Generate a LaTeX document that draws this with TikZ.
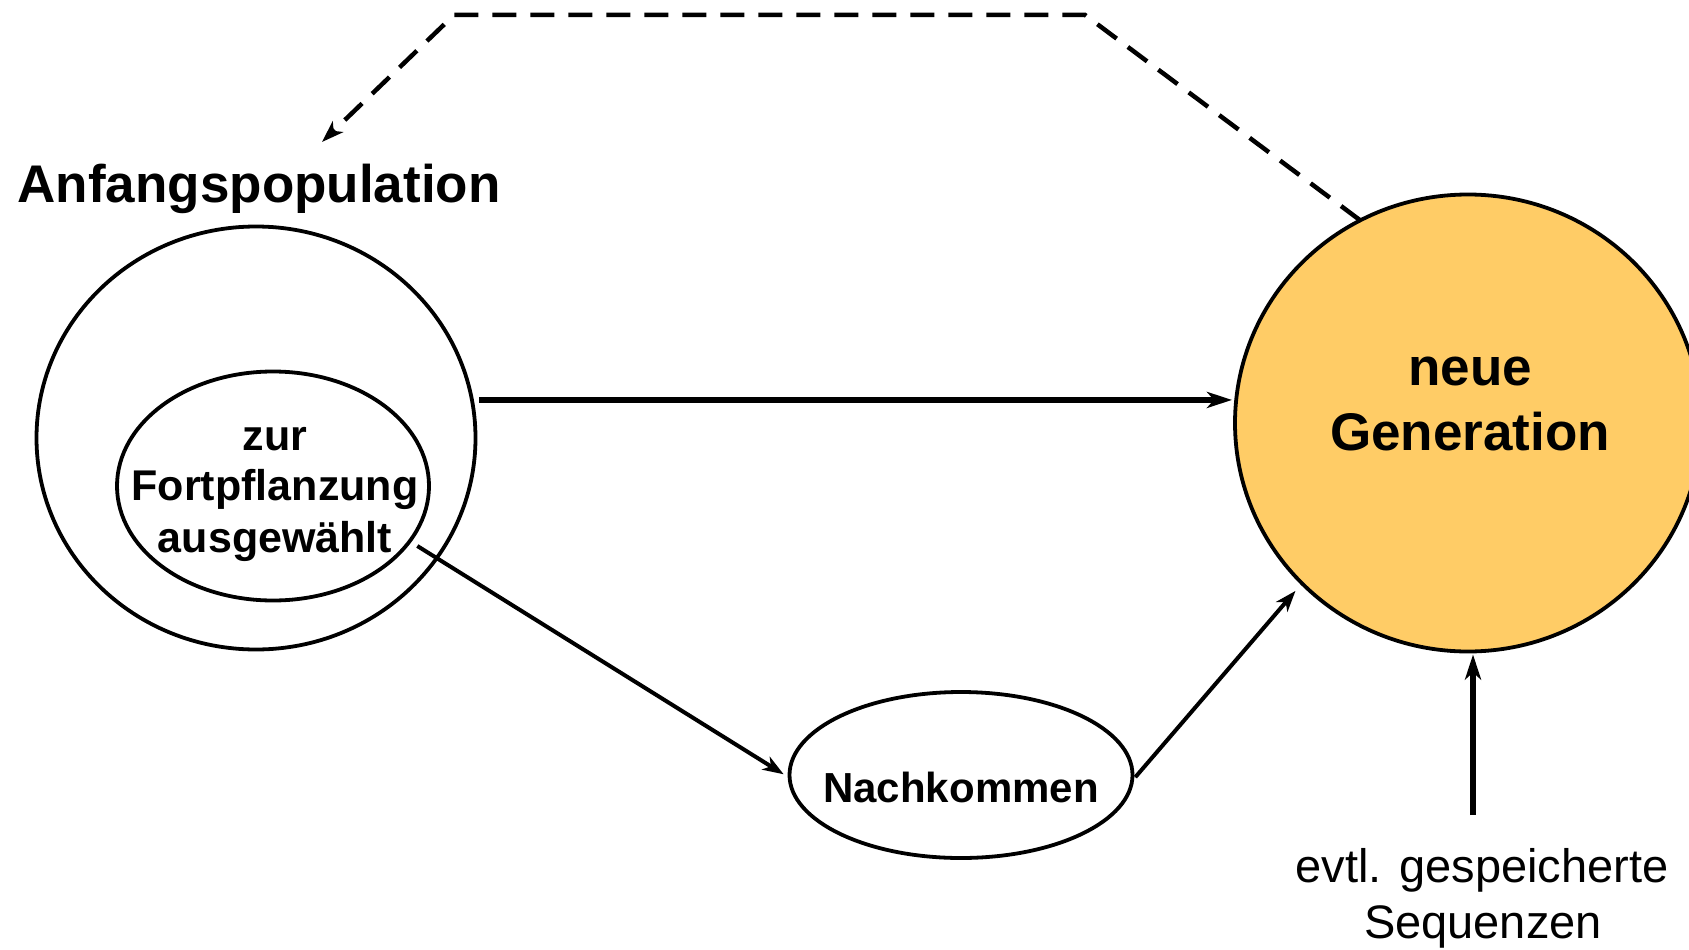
\documentclass[tikz,border=0pt]{standalone}
\usepackage{fontspec}
\setmainfont{Liberation Sans}
\usetikzlibrary{arrows.meta,shapes.geometric}
\definecolor{gengold}{RGB}{255,204,102}

\begin{document}
\begin{tikzpicture}[x=1pt,y=-1pt,
  ring/.style={draw, ellipse, inner sep=0pt, outer sep=0pt, line width=3.8pt},
  txt/.style={inner sep=0pt, anchor=base},
  bigbold/.style={font=\fontsize{53pt}{60pt}\selectfont\bfseries},
  midbold/.style={font=\fontsize{43pt}{50pt}\selectfont\bfseries},
  plain/.style={font=\fontsize{47pt}{52pt}\selectfont},
  heavylink/.style={line width=5.5pt, -{Stealth[length=25pt,width=16pt,inset=7pt]}},
  thinlink/.style={line width=4pt, -{Stealth[length=21pt,width=15pt,inset=6pt]}},
  backlink/.style={line width=4.5pt, dash pattern=on 24pt off 14pt,
    -{Stealth[length=22pt,width=15pt,inset=6pt]}},
]
\clip (0,0) rectangle (1689,950);

% population, selected parents, offspring, new generation
\node[ring, minimum width=439pt, minimum height=423pt] (outer) at (256,438) {};
\node[ring, minimum width=312pt, minimum height=229pt] (inner) at (273,486) {};
\node[ring, minimum width=343pt, minimum height=166pt] (nach) at (961,775) {};
\node[ring, fill=gengold, minimum width=466pt, minimum height=457pt] (ng) at (1468,423) {};

% labels
\node[txt, bigbold, anchor=base west] (anf) at (17.5,202) {Anfangspopulation};
\node[txt, midbold] (sel1) at (275,450) {zur};
\node[txt, midbold] (sel2) at (275,500) {Fortpflanzung};
\node[txt, midbold] (sel3) at (275,552) {ausgewählt};
\node[txt, font=\fontsize{42pt}{48pt}\selectfont\bfseries] (nachlbl) at (961,802) {Nachkommen};
\node[txt, bigbold] (gen1) at (1470,385) {neue};
\node[txt, bigbold] (gen2) at (1470,450) {Generation};
\node[txt, plain] (store1) at (1482,882) {evtl. gespeicherte};
\node[txt, plain] (store2) at (1483,938) {Sequenzen};

% connectors
\draw[heavylink, shorten <=7.5pt, shorten >=3pt] (outer.10.4) -- (ng.west |- outer.10.4);
\draw[thinlink, shorten <=9pt, shorten >=7pt] (inner.-22.1) -- (nach.181.9);
\draw[thinlink, shorten <=5pt, shorten >=10pt] (nach.-2.2) -- (ng.224.7);

\coordinate (src) at (1473,815);
\draw[heavylink, line width=5.5pt, shorten >=3pt] (src) -- (src |- ng.south);

% feedback to the start population
\coordinate (d1) at (1085,15);
\coordinate (d2) at (454,15);
\coordinate (d3) at (322,142);
\draw[backlink] (ng.118.7) -- (d1) -- (d2) -- (d3);
\end{tikzpicture}
\end{document}
